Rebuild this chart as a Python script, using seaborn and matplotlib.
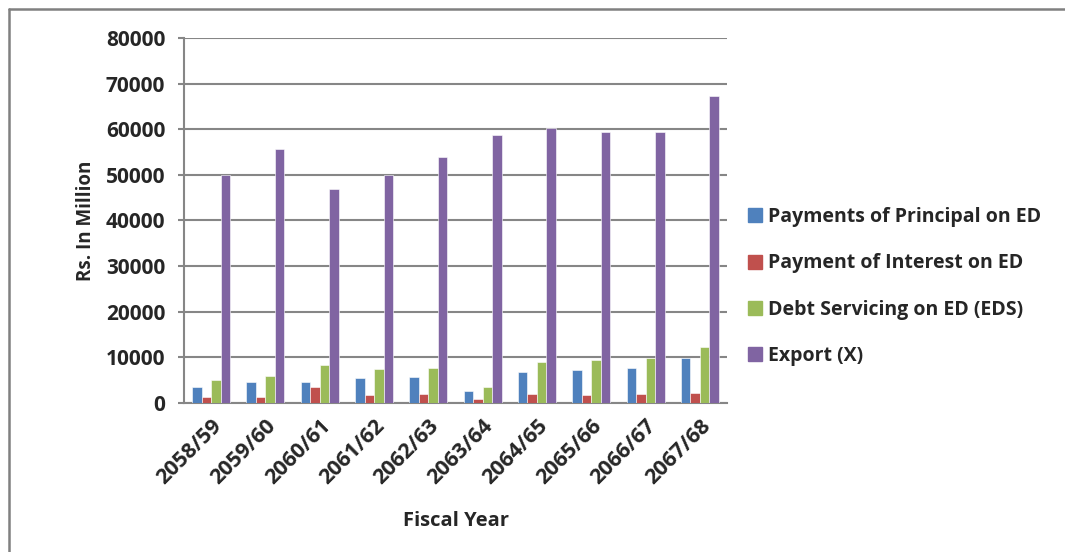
import numpy as np
import pandas as pd
import matplotlib
matplotlib.use("Agg")
import matplotlib.pyplot as plt
from matplotlib.lines import Line2D
import seaborn as sns

years = ["2058/59", "2059/60", "2060/61", "2061/62", "2062/63",
         "2063/64", "2064/65", "2065/66", "2066/67", "2067/68"]
principal = [3500, 4500, 4700, 5400, 5600, 2600, 6700, 7250, 7600, 9900]
interest = [1400, 1400, 3500, 1800, 1950, 870, 1950, 1800, 1950, 2300]
eds = [5100, 6000, 8400, 7400, 7700, 3600, 8900, 9350, 9800, 12250]
export = [49900, 55600, 46900, 49900, 53900, 58700, 60300, 59400, 59300, 67200]

series_names = ["Payments of Principal on ED", "Payment of Interest on ED",
                "Debt Servicing on ED (EDS)", "Export (X)"]
colors = ["#4F81BD", "#C0504D", "#9BBB59", "#8064A2"]
y_ticks = [0, 10000, 20000, 30000, 40000, 50000, 60000, 70000, 80000]

df = pd.DataFrame({
    "Fiscal Year": years * 4,
    "Series": sum([[n] * len(years) for n in series_names], []),
    "Value": principal + interest + eds + export,
})

sns.set_theme(style="white")
plt.rcParams["font.family"] = ["Open Sans", "DejaVu Sans"]
plt.rcParams["font.weight"] = "bold"

fig = plt.figure(figsize=(10.65, 5.52), dpi=100)
ax = fig.add_axes([0.1728, 0.2699, 0.6826 - 0.1728, 0.9312 - 0.2699])

sns.barplot(data=df, x="Fiscal Year", y="Value", hue="Series",
            hue_order=series_names, palette=colors, width=0.7,
            edgecolor="#ffffff", linewidth=0.4, saturation=1, ax=ax,
            legend=False, zorder=3)

grid_c = "#868686"
ax.set_ylim(0, 80000)
ax.set_xlim(-0.5, len(years) - 0.5)
ax.set_yticks(y_ticks)
ax.set_yticklabels([str(v) for v in y_ticks], fontsize=15, fontweight="bold")
ax.yaxis.grid(True, color=grid_c, linewidth=1.5, zorder=0)
ax.set_axisbelow(True)

ax.set_xticks(range(len(years)))
ax.set_xticklabels(years, rotation=45, ha="right", rotation_mode="anchor",
                   fontsize=15.5, fontweight="bold")
ax.set_xticks(np.arange(-0.5, len(years), 1.0), minor=True)
ax.tick_params(axis="x", which="major", length=0, pad=9)
ax.tick_params(axis="x", which="minor", length=6, width=1.5, color=grid_c,
               direction="out")
ax.tick_params(axis="y", length=4.5, width=1.5, color=grid_c, direction="out",
               pad=9, left=True)

for side in ["top", "right"]:
    ax.spines[side].set_visible(False)
for side in ["left", "bottom"]:
    ax.spines[side].set_color(grid_c)
    ax.spines[side].set_linewidth(1.5)

ax.set_xlabel("Fiscal Year", fontsize=14.5, fontweight="bold", labelpad=16)
ax.set_ylabel("Rs. In Million", fontsize=13.5, fontweight="bold", labelpad=7)

handles = [Line2D([0], [0], marker="s", linestyle="none", markersize=10,
                  markerfacecolor=c, markeredgecolor=c) for c in colors]
fig.legend(handles, series_names, loc="center left",
           bbox_to_anchor=(0.686, 0.481), frameon=False,
           prop={"size": 14, "weight": "bold"}, handlelength=0.7,
           handletextpad=0.3, labelspacing=1.35)

# outer chart frame
fig.add_artist(Line2D([9 / 1065, 1], [1 - 9 / 552, 1 - 9 / 552],
                      transform=fig.transFigure, color="#808080", linewidth=1.8))
fig.add_artist(Line2D([9 / 1065, 9 / 1065], [0, 1 - 9 / 552],
                      transform=fig.transFigure, color="#808080", linewidth=1.8))

fig.savefig("out.png", dpi=100, facecolor="white")
